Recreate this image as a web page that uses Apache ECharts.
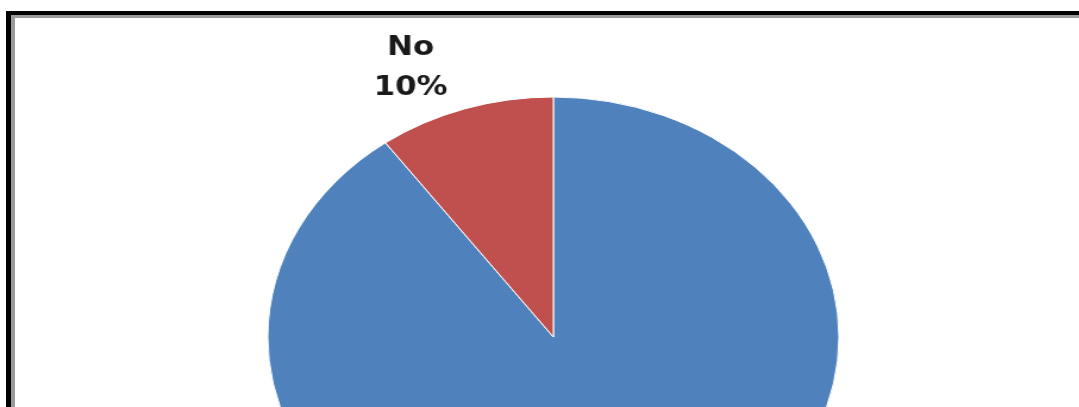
<!DOCTYPE html>
<html>
<head>
<meta charset="utf-8">
<script src="https://cdn.jsdelivr.net/npm/echarts@6/dist/echarts.min.js"></script>
<style>
  html, body { margin: 0; padding: 0; background: #fff; }
  #page { position: relative; width: 1079px; height: 407px; overflow: hidden; }
  #frame {
    position: absolute; left: 6px; top: 11px; width: 1200px; height: 500px;
    border-left: 5px solid #000; border-top: 4px solid #000;
  }
  #frame-inner {
    position: absolute; left: 0; top: 0; width: 100%; height: 100%;
    border-left: 4px solid #9a9a9a; border-top: 3px solid #9a9a9a;
  }
  /* the source picture is stretched sideways, so the pie is an ellipse */
  #chart {
    position: absolute; left: 0; top: 0; width: 907px; height: 407px;
    transform: scaleX(1.19); transform-origin: 0 0;
  }
</style>
</head>
<body>
<div id="page">
  <div id="chart"></div>
  <div id="frame"><div id="frame-inner"></div></div>
</div>
<script>
const categories = ['Yes', 'No'];
const shares = [90, 10];
const colors = ['#4f81bd', '#c0504d'];

const chart = echarts.init(document.getElementById('chart'));

chart.setOption({
  animation: false,
  color: colors,
  series: [
    {
      type: 'pie',
      center: [465, 337],
      radius: 240,
      startAngle: 90,
      clockwise: true,
      silent: true,
      itemStyle: {
        borderColor: '#fff',
        borderWidth: 1,
      },
      label: {
        show: true,
        position: 'outside',
        formatter: '{b}\n{d}%',
        fontFamily: 'DejaVu Sans',
        fontWeight: 'bold',
        fontSize: 26,
        lineHeight: 40,
        color: '#1a1a1a',
        align: 'center',
      },
      labelLine: { show: false },
      labelLayout: function (params) {
        // the Yes label sits below the cropped area
        if (params.dataIndex === 0) return { x: -2000, y: -2000 };
        return { x: 345, y: 68, align: 'center', verticalAlign: 'middle' };
      },
      data: categories.map((name, i) => ({ name: name, value: shares[i] })),
    },
  ],
});
</script>
</body>
</html>
